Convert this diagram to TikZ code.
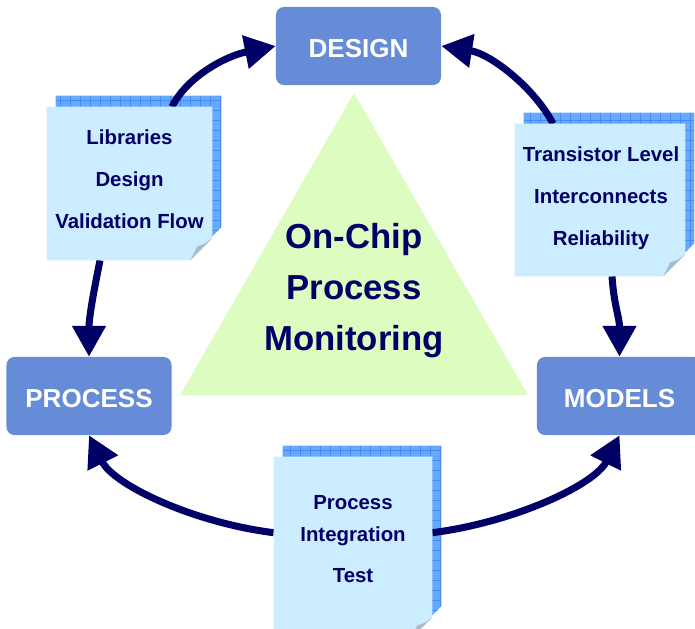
\documentclass[tikz,border=0pt]{standalone}
\usepackage{fontspec}
\setmainfont{Liberation Sans}
\usetikzlibrary{arrows.meta, calc, positioning}
\definecolor{boxblue}{RGB}{102,140,216}
\definecolor{navy}{RGB}{0,0,102}
\definecolor{sheetblue}{RGB}{204,236,255}
\definecolor{gridblue}{RGB}{102,170,255}
\definecolor{gridedge}{RGB}{70,140,240}
\definecolor{foldgrey}{RGB}{168,188,204}
\definecolor{trigreen}{RGB}{221,252,192}
\tikzstyle{stagebox} = [rectangle, rounded corners=0.2cm, fill=boxblue, text=white, font=\fontsize{18.5}{22}\selectfont\bfseries, minimum width=4.125cm, minimum height=1.95cm, inner sep=0pt, text height=16.2pt, text depth=0pt]
\tikzstyle{notesheet} = [rectangle, inner sep=0pt]
\tikzstyle{notetext} = [anchor=north, inner sep=0pt, align=center, text=navy, font=\fontsize{14.5}{29.9}\selectfont\bfseries]
\tikzstyle{hubtext} = [anchor=north, inner sep=0pt, align=center, text=navy, font=\fontsize{24.7}{36.3}\selectfont\bfseries]
\tikzstyle{cycarrow} = [line width=5pt, draw=navy, -{Triangle[length=22pt,width=23pt]}]
\pgfdeclarelayer{gridlayer}
\pgfdeclarelayer{arrowlayer}
\pgfdeclarelayer{paperlayer}
\pgfsetlayers{gridlayer,arrowlayer,paperlayer,main}
\newcommand{\notepaper}[1]{%
  \begin{pgfonlayer}{gridlayer}
    \fill[gridblue] ($(#1.north west)+(9,-11)$) -- ($(#1.north east)+(9,-11)$) -- ($(#1.south east)+(9,-33)$) -- ($(#1.south east)+(-13,-11)$) -- ($(#1.south west)+(9,-11)$) -- cycle;
    \begin{scope}
      \clip ($(#1.north west)+(9,-11)$) -- ($(#1.north east)+(9,-11)$) -- ($(#1.south east)+(9,-33)$) -- ($(#1.south east)+(-13,-11)$) -- ($(#1.south west)+(9,-11)$) -- cycle;
      \draw[gridedge, line width=0.6pt, step=0.25cm] ($(#1.north west)+(9,-11)$) grid ($(#1.south east)+(9,-11)$);
    \end{scope}
  \end{pgfonlayer}
  \begin{pgfonlayer}{paperlayer}
    \fill[sheetblue] (#1.north west) -- (#1.north east) -- ($(#1.south east)+(0,-22)$) -- ($(#1.south east)+(-22,0)$) -- (#1.south west) -- cycle;
    \fill[foldgrey] ($(#1.south east)+(0,-22)$) .. controls ($(#1.south east)+(-8,-16)$) .. ($(#1.south east)+(-15,-14)$) -- ($(#1.south east)+(-22,0)$) -- cycle;
  \end{pgfonlayer}
}

\begin{document}
\begin{tikzpicture}[x=0.025cm, y=-0.025cm]
  \useasboundingbox (0,0) rectangle (695,629);
  \clip (0,0) rectangle (695,629);

  \fill[trigreen] (354,93) -- (528,395) -- (180,395) -- cycle;
  \node (hub) [hubtext] at (354,223) {On-Chip\\Process\\Monitoring};

  \node (design) [stagebox] at (358.5,46) {DESIGN};
  \node (process) [stagebox] at (89,396) {PROCESS};
  \node (models) [stagebox] at (619.5,396) {MODELS};

  \node (libnote) [notesheet, minimum width=4.125cm, minimum height=3.825cm] at (129.5,183.5) {};
  \node (trnote) [notesheet, minimum width=4.25cm, minimum height=3.8cm] at (600,200) {};
  \node (pitnote) [notesheet, minimum width=3.95cm, minimum height=4.55cm] at (353,548) {};
  \notepaper{libnote}
  \notepaper{trnote}
  \notepaper{pitnote}

  \node (libtext) [notetext] at ($(libnote.north)+(0,23)$) {Libraries\\Design\\Validation Flow};
  \node (trtext) [notetext] at ($(trnote.north)+(1,22.5)$) {Transistor Level\\Interconnects\\Reliability};
  \node (pittext) [notetext, font=\fontsize{14.5}{22.8}\selectfont\bfseries] at ($(pitnote.north)+(0,38)$) {Process\\Integration\\[6.4pt]Test};

  \begin{pgfonlayer}{arrowlayer}
    \draw [cycarrow] ($(libnote.north)+(42.5,0)$) .. controls +(15,-30) and +(-50,10) .. (design.west);
    \draw [cycarrow] ($(trnote.north)+(-47,0)$) .. controls +(-18,-35) and +(50,8) .. (design.east);
    \draw [cycarrow] ($(libnote.south)+(-29.5,0)$) .. controls +(-6,30) and +(0,-40) .. (process.north);
    \draw [cycarrow] ($(trnote.south)+(12,0)$) .. controls +(2,30) and +(0,-40) .. (models.north);
    \draw [cycarrow] ($(pitnote.north west)+(0,76)$) .. controls +(-80,-10) and +(25,50) .. (process.south);
    \draw [cycarrow] ($(pitnote.north east)+(0,76)$) .. controls +(80,-10) and +(-25,50) .. (models.south);
  \end{pgfonlayer}
\end{tikzpicture}
\end{document}
